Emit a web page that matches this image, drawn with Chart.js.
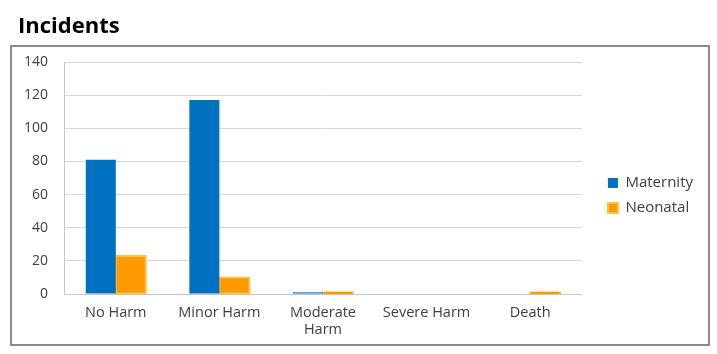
<!DOCTYPE html>
<html>
<head>
<meta charset="utf-8">
<title>Incidents</title>
<script src="https://cdn.jsdelivr.net/npm/chart.js@4/dist/chart.umd.min.js"></script>
<style>
  html, body { margin: 0; padding: 0; background: #ffffff; }
  #wrap { width: 717px; height: 354px; }
</style>
</head>
<body>
<div id="wrap"><canvas id="incidents" width="717" height="354"></canvas></div>
<script>
// Incident counts by level of harm
const categories = ['No Harm', 'Minor Harm', ['Moderate', 'Harm'], 'Severe Harm', 'Death'];
const maternity = [81, 117, 1, 0, 0];
const neonatal = [23, 10, 1, 0, 1];
const yTickMin = 0;
const yTickMax = 140;
const yTickStep = 20;

const FONT = '"Open Sans", "DejaVu Sans", sans-serif';

// Grey frame around the plot and legend
const framePlugin = {
  id: 'frame',
  beforeDraw(chart) {
    const ctx = chart.ctx;
    ctx.save();
    ctx.fillStyle = '#ffffff';
    ctx.fillRect(0, 0, chart.width, chart.height);
    ctx.strokeStyle = '#8a8a8a';
    ctx.lineWidth = 2;
    ctx.strokeRect(11, 46, 698, 299);
    ctx.restore();
  }
};

new Chart(document.getElementById('incidents'), {
  type: 'bar',
  data: {
    labels: categories,
    datasets: [
      {
        label: 'Maternity',
        data: maternity,
        backgroundColor: '#0070c0',
        borderColor: '#0070c0',
        borderWidth: 0,
        yAxisID: 'y'
      },
      {
        label: 'Neonatal',
        data: neonatal,
        backgroundColor: '#ff9900',
        borderColor: '#f7c34a',
        borderWidth: 2,
        borderSkipped: false,
        inflateAmount: 1,
        yAxisID: 'y'
      }
    ]
  },
  options: {
    responsive: false,
    animation: false,
    layout: { padding: { left: 18, right: 14, top: 0, bottom: 0 } },
    datasets: {
      bar: { categoryPercentage: 0.58, barPercentage: 1.0 }
    },
    scales: {
      x: {
        grid: { display: false, drawTicks: false },
        border: { display: true, color: '#c6c6c6', width: 1 },
        ticks: {
          color: '#404040',
          font: { family: FONT, size: 14.5 },
          padding: 10,
          maxRotation: 0,
          autoSkip: false
        },
        afterFit(scale) { scale.height = 60; }
      },
      y: {
        position: 'left',
        min: yTickMin,
        max: yTickMax,
        grid: { color: '#d9d9d9', lineWidth: 1, drawTicks: false },
        border: { display: true, color: '#c6c6c6', width: 1 },
        ticks: {
          stepSize: yTickStep,
          color: '#404040',
          font: { family: FONT, size: 14 },
          padding: 16
        },
        afterFit(scale) { scale.width = 46; }
      },
      spacer: {
        type: 'linear',
        position: 'right',
        display: true,
        grid: { display: false, drawTicks: false },
        border: { display: false },
        ticks: { display: false },
        afterFit(scale) { scale.width = 16; }
      }
    },
    plugins: {
      title: {
        display: true,
        text: 'Incidents',
        align: 'start',
        color: '#000000',
        font: { family: FONT, size: 22, weight: 'bold' },
        padding: { top: 14, bottom: 21.6 }
      },
      legend: {
        display: true,
        position: 'right',
        align: 'center',
        title: {
          display: true,
          text: ' ',
          font: { family: FONT, size: 12 },
          padding: { top: 0, bottom: 22.6 }
        },
        labels: {
          color: '#404040',
          font: { family: FONT, size: 15 },
          boxWidth: 10,
          boxHeight: 10,
          padding: 10
        }
      },
      tooltip: { enabled: false }
    }
  },
  plugins: [framePlugin]
});
</script>
</body>
</html>
